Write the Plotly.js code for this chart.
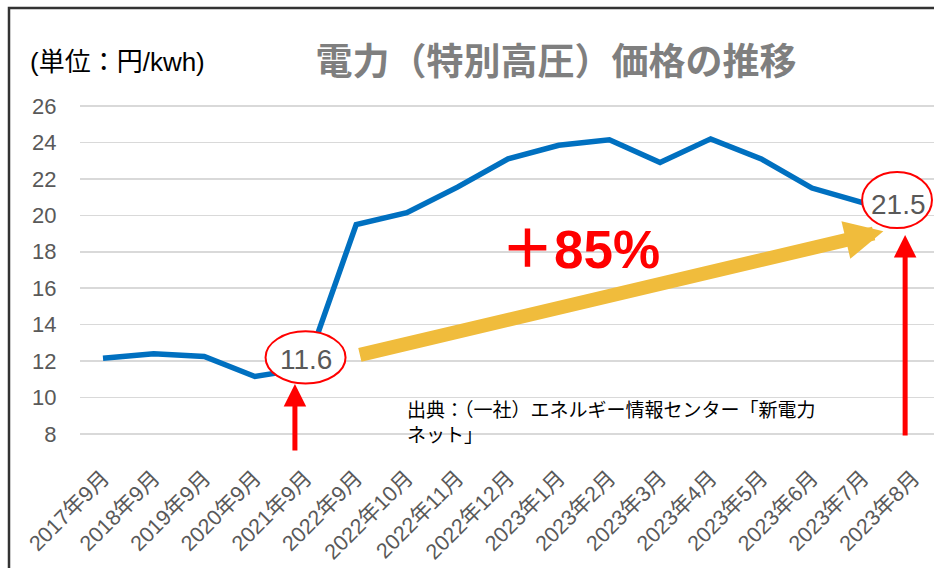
<!DOCTYPE html>
<html>
<head>
<meta charset="utf-8">
<script src="https://cdn.plot.ly/plotly-3.0.1.min.js"></script>
<style>html,body{margin:0;padding:0;background:#fff;}#chart{width:934px;height:568px;}</style>
</head>
<body>
<div id="chart"></div>
<script>
// ---- data ----
const categories = ["2017年9月","2018年9月","2019年9月","2020年9月","2021年9月","2022年9月","2022年10月","2022年11月","2022年12月","2023年1月","2023年2月","2023年3月","2023年4月","2023年5月","2023年6月","2023年7月","2023年8月"];
const prices = [12.15, 12.4, 12.25, 11.15, 11.6, 19.5, 20.15, 21.55, 23.1, 23.85, 24.15, 22.9, 24.2, 23.1, 21.5, 20.7, 21.5];
const yTicks = [8,10,12,14,16,18,20,22,24,26];
const titleText = "電力（特別高圧）価格の推移";
const unitText = "(単位：円/kwh)";
const growthText = "＋85%";
const sourceLine1 = "出典：（一社）エネルギー情報センター「新電力";
const sourceLine2 = "ネット」";

const startIdx = 4, endIdx = 16;
const font = "Liberation Sans, Arial, Noto Sans CJK JP, sans-serif";

const trace = {
  x: categories, y: prices, type: "scatter", mode: "lines",
  line: {color: "#0070c0", width: 5.5}, hoverinfo: "skip", cliponaxis: true
};

const layout = {
  width: 934, height: 568,
  margin: {l: 80, r: 0, t: 97, b: 125},
  paper_bgcolor: "#ffffff", plot_bgcolor: "#ffffff",
  showlegend: false,
  title: {text: titleText, x: 556/934, xanchor: "center", xref: "container",
          y: 1 - 62/568, yanchor: "middle", yref: "container",
          font: {family: "Noto Sans CJK JP, sans-serif", size: 37, color: "#7f7f7f", weight: "bold"}},
  xaxis: {type: "category", range: [-0.454, 16.41], showgrid: false, zeroline: false, showline: false,
          tickangle: -45, ticks: "outside", ticklen: 13, tickcolor: "rgba(0,0,0,0)",
          tickfont: {family: font, size: 21.5, color: "#595959"}},
  yaxis: {range: [7.5, 26.5], tickvals: yTicks, showgrid: true, gridcolor: "#d9d9d9", gridwidth: 1.5,
          zeroline: false, showline: false, ticks: "outside", ticklen: 18, tickcolor: "rgba(0,0,0,0)",
          tickfont: {family: font, size: 22, color: "#595959"}},
  shapes: [
    {type: "rect", xref: "paper", yref: "paper", x0: (9-80)/854, x1: 1.05, y0: -0.45, y1: (443-8)/346,
     line: {color: "#333333", width: 2.5}, fillcolor: "rgba(0,0,0,0)"},
    {type: "circle", xref: "x", yref: "y", x0: startIdx-0.79, x1: startIdx+0.79, y0: 10.77, y1: 13.63,
     line: {color: "#ff0000", width: 2}, fillcolor: "#ffffff", layer: "above"},
    {type: "circle", xref: "x", yref: "y", x0: 15.68-0.69, x1: 15.68+0.69, y0: 19.3, y1: 22.38,
     line: {color: "#ff0000", width: 2}, fillcolor: "#ffffff", layer: "above"}
  ],
  annotations: [
    {xref: "paper", yref: "paper", x: (28-80)/854, y: (443-62)/346, xanchor: "left", yanchor: "middle",
     text: unitText, showarrow: false, font: {family: font, size: 26, color: "#000000"}},
    {xref: "x", yref: "y", x: startIdx, y: 12.1, text: prices[startIdx].toFixed(1), showarrow: false,
     font: {family: font, size: 28, color: "#595959"}},
    {xref: "x", yref: "y", x: 15.7, y: 20.6, text: prices[endIdx].toFixed(1), showarrow: false,
     font: {family: font, size: 28, color: "#595959"}},
    // yellow arrow
    {xref: "x", yref: "y", x: 15.41, y: 19.13, ax: -525, ay: 124, axref: "pixel", ayref: "pixel",
     text: "", showarrow: true, arrowhead: 2, arrowsize: 0.55, arrowwidth: 14, arrowcolor: "#f0bc3c"},
    // red arrows
    {xref: "x", yref: "y", x: 3.79, y: 10.74, ax: 0, ay: 68, text: "", showarrow: true,
     arrowhead: 2, arrowsize: 0.9, arrowwidth: 5, arrowcolor: "#ff0000"},
    {xref: "x", yref: "y", x: 15.84, y: 18.92, ax: 0, ay: 202, text: "", showarrow: true,
     arrowhead: 2, arrowsize: 0.9, arrowwidth: 5, arrowcolor: "#ff0000"},
    {xref: "x", yref: "y", x: 9.42, y: 18.1, text: growthText, showarrow: false,
     font: {family: font, size: 53, color: "#ff0000", weight: "bold"}},
    {xref: "x", yref: "y", x: 5.98, y: 9.42, xanchor: "left", yanchor: "middle", align: "left",
     text: sourceLine1, showarrow: false, borderpad: 0,
     font: {family: "Noto Sans CJK JP, sans-serif", size: 19, color: "#000000"}},
    {xref: "x", yref: "y", x: 5.98, y: 8.04, xanchor: "left", yanchor: "middle", align: "left",
     text: sourceLine2, showarrow: false, borderpad: 0,
     font: {family: "Noto Sans CJK JP, sans-serif", size: 19, color: "#000000"}}
  ]
};

Plotly.newPlot("chart", [trace], layout, {displayModeBar: false, staticPlot: true});
</script>
</body>
</html>
